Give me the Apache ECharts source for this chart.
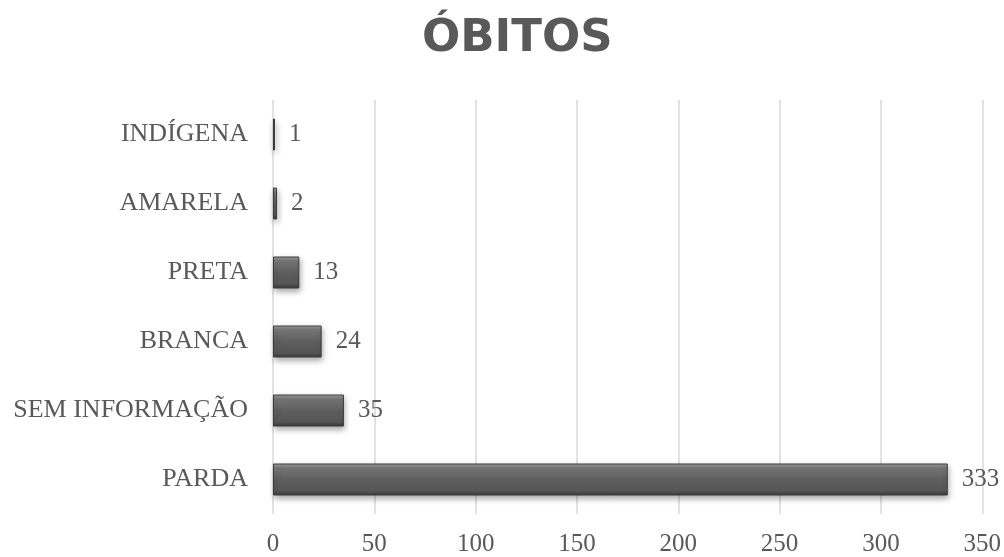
<!DOCTYPE html>
<html>
<head>
<meta charset="utf-8">
<script src="https://cdn.jsdelivr.net/npm/echarts@6/dist/echarts.min.js"></script>
<style>
  html, body { margin: 0; padding: 0; background: #ffffff; }
  #chart { width: 1004px; height: 557px; }
</style>
</head>
<body>
<div id="chart"></div>
<script>
// Deaths by race/colour category
const categories = ['PARDA', 'SEM INFORMAÇÃO', 'BRANCA', 'PRETA', 'AMARELA', 'INDÍGENA'];
const deaths = [333, 35, 24, 13, 2, 1];
const xTicks = [0, 50, 100, 150, 200, 250, 300, 350];

const serif = '"Liberation Serif", "DejaVu Serif", serif';
const textColor = '#595959';

const chart = echarts.init(document.getElementById('chart'));

// bevelled bar look: light top edge, dark lower edge
const barFill = new echarts.graphic.LinearGradient(0, 0, 0, 1, [
  { offset: 0, color: '#a0a0a0' },
  { offset: 0.14, color: '#777777' },
  { offset: 0.5, color: '#5e5e5e' },
  { offset: 0.86, color: '#555555' },
  { offset: 1, color: '#383838' }
]);

chart.setOption({
  animation: false,
  title: {
    text: 'ÓBITOS',
    left: 417,
    top: 12,
    textStyle: {
      fontFamily: '"DejaVu Sans", "Noto Sans", sans-serif',
      fontWeight: 'bold',
      fontSize: 45,
      color: textColor
    }
  },
  grid: { left: 273, right: 21, top: 100, bottom: 43, containLabel: false },
  xAxis: {
    type: 'value',
    min: xTicks[0],
    max: xTicks[xTicks.length - 1],
    interval: 50,
    axisLine: { show: false },
    axisTick: { show: false },
    splitLine: { show: true, lineStyle: { color: '#d9d9d9', width: 1.5 } },
    axisLabel: {
      fontFamily: serif,
      fontSize: 25,
      color: textColor,
      margin: 18,
      formatter: v => (xTicks.includes(v) ? String(v) : '')
    }
  },
  yAxis: {
    type: 'category',
    data: categories,
    axisLine: { show: false },
    axisTick: { show: false },
    splitLine: { show: false },
    axisLabel: {
      fontFamily: serif,
      fontSize: 26,
      color: textColor,
      margin: 25
    }
  },
  series: [{
    type: 'bar',
    data: deaths,
    barWidth: 32,
    itemStyle: {
      color: barFill,
      borderColor: '#3c3c3c',
      borderWidth: 1,
      shadowColor: 'rgba(0,0,0,0.35)',
      shadowBlur: 6,
      shadowOffsetX: 1,
      shadowOffsetY: 3
    },
    label: {
      show: true,
      position: 'right',
      distance: 14,
      fontFamily: serif,
      fontSize: 25,
      color: textColor
    }
  }]
});
</script>
</body>
</html>
